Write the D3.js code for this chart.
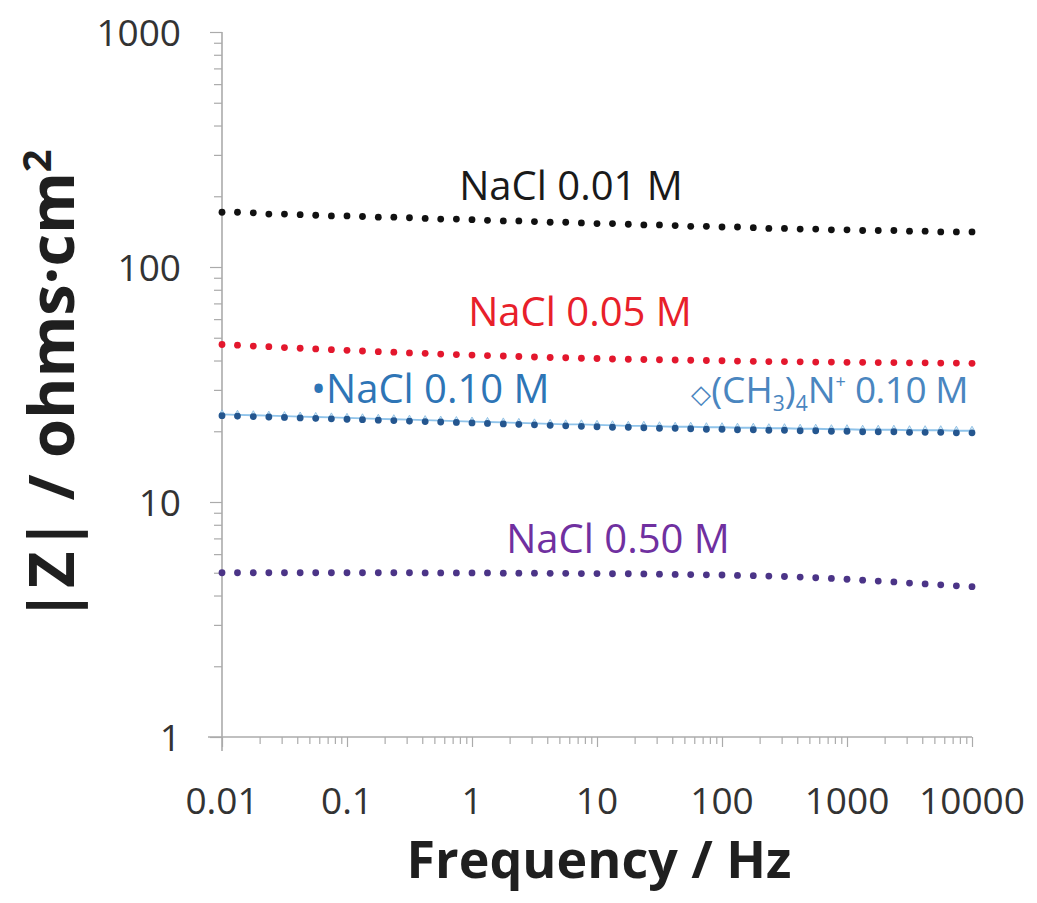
<!DOCTYPE html>
<html>
<head>
<meta charset="utf-8">
<script src="https://cdn.jsdelivr.net/npm/d3@7"></script>
<style>
  html, body { margin: 0; padding: 0; background: #fff; }
  svg text { font-family: "Open Sans", "Noto Sans", sans-serif; }
</style>
</head>
<body>
<svg id="chart" width="1037" height="903"></svg>
<script>
// Measurement frequencies (Hz), 8 points per decade
const freqHz = [
  0.01, 0.0133, 0.0178, 0.0237, 0.0316, 0.0422, 0.0562, 0.075,
  0.1, 0.133, 0.178, 0.237, 0.316, 0.422, 0.562, 0.75,
  1, 1.33, 1.78, 2.37, 3.16, 4.22, 5.62, 7.5,
  10, 13.3, 17.8, 23.7, 31.6, 42.2, 56.2, 75,
  100, 133, 178, 237, 316, 422, 562, 750,
  1000, 1334, 1778, 2371, 3162, 4217, 5623, 7499,
  10000
];

// |Z| (ohms·cm²) for each electrolyte
const nacl001 = [
  171, 171, 170, 168, 168, 167, 166, 165,
  165, 164, 163, 163, 162, 161, 160, 160,
  159, 158, 157, 157, 156, 155, 155, 154,
  153, 153, 152, 151, 151, 150, 149, 149,
  148, 148, 147, 146, 146, 145, 145, 144,
  144, 143, 143, 143, 142, 142, 141, 141,
  141
];
const nacl005 = [
  46.8, 46.5, 46.1, 45.8, 45.4, 45.1, 44.8, 44.5,
  44.2, 43.9, 43.6, 43.4, 43.1, 42.9, 42.6, 42.4,
  42.2, 42.0, 41.8, 41.6, 41.4, 41.2, 41.1, 40.9,
  40.8, 40.6, 40.5, 40.4, 40.3, 40.2, 40.1, 40.0,
  39.9, 39.8, 39.7, 39.6, 39.6, 39.5, 39.4, 39.4,
  39.3, 39.3, 39.2, 39.2, 39.1, 39.1, 39.0, 39.0,
  38.9
];
const nacl010 = [
  23.3, 23.2, 23.1, 23.0, 22.9, 22.8, 22.7, 22.6,
  22.5, 22.4, 22.3, 22.2, 22.1, 22.0, 21.9, 21.8,
  21.7, 21.6, 21.5, 21.4, 21.3, 21.2, 21.1, 21.0,
  20.9, 20.8, 20.8, 20.7, 20.6, 20.6, 20.5, 20.4,
  20.4, 20.3, 20.3, 20.2, 20.2, 20.1, 20.1, 20.0,
  20.0, 19.9, 19.9, 19.9, 19.8, 19.8, 19.8, 19.7,
  19.7
];
const tma010 = [
  23.6, 23.5, 23.4, 23.3, 23.2, 23.1, 23.0, 22.9,
  22.8, 22.7, 22.6, 22.5, 22.4, 22.3, 22.2, 22.1,
  22.0, 21.9, 21.8, 21.7, 21.6, 21.5, 21.4, 21.4,
  21.3, 21.2, 21.1, 21.1, 21.0, 20.9, 20.9, 20.8,
  20.8, 20.7, 20.7, 20.6, 20.6, 20.5, 20.5, 20.4,
  20.4, 20.3, 20.3, 20.3, 20.2, 20.2, 20.2, 20.1,
  20.1
];
const nacl050 = [
  5.00, 5.00, 5.00, 5.00, 5.00, 5.00, 5.00, 5.00,
  5.00, 5.00, 5.00, 5.00, 5.00, 4.99, 4.99, 4.99,
  4.99, 4.99, 4.98, 4.98, 4.98, 4.97, 4.97, 4.96,
  4.96, 4.95, 4.95, 4.94, 4.93, 4.92, 4.91, 4.90,
  4.89, 4.87, 4.86, 4.84, 4.82, 4.79, 4.76, 4.73,
  4.69, 4.65, 4.61, 4.57, 4.52, 4.48, 4.44, 4.40,
  4.36
];

const xTickValues = [0.01, 0.1, 1, 10, 100, 1000, 10000];
const xTickLabels = ["0.01", "0.1", "1", "10", "100", "1000", "10000"];
const yTickValues = [1, 10, 100, 1000];
const yTickLabels = ["1", "10", "100", "1000"];

const svg = d3.select("#chart");
const plot = { left: 222, right: 972, top: 32, bottom: 737 };

const x = d3.scaleLog().domain([0.01, 10000]).range([plot.left, plot.right]);
const y = d3.scaleLog().domain([1, 1000]).range([plot.bottom, plot.top]);

const axisColor = "#ababab";
const labelColor = "#333333";
const tickFont = 37;

// minor tick positions for each decade
function minorTicks(domain) {
  const out = [];
  for (let e = Math.log10(domain[0]); e < Math.log10(domain[1]); e++) {
    for (let m = 2; m <= 9; m++) out.push(m * Math.pow(10, e));
  }
  return out;
}

// X axis
const xAxisG = svg.append("g").attr("transform", `translate(0,${plot.bottom})`);
xAxisG.call(d3.axisBottom(x).tickValues(minorTicks(x.domain())).tickSize(7).tickFormat(""));
xAxisG.append("g").call(d3.axisBottom(x).tickValues(xTickValues).tickSize(10).tickFormat(""));
xAxisG.selectAll("path.domain").remove();
xAxisG.append("line").attr("x1", plot.left - 14).attr("x2", plot.right).attr("stroke", axisColor).attr("stroke-width", 1.6);
xAxisG.selectAll(".tick line").attr("stroke", axisColor).attr("stroke-width", 1.2);

svg.append("g").selectAll("text").data(xTickValues).join("text")
  .attr("x", d => x(d)).attr("y", 814)
  .attr("text-anchor", "middle").attr("font-size", tickFont).attr("fill", labelColor)
  .text((d, i) => xTickLabels[i]);

// Y axis
const yAxisG = svg.append("g").attr("transform", `translate(${plot.left},0)`);
yAxisG.call(d3.axisLeft(y).tickValues(minorTicks(y.domain())).tickSize(8).tickFormat(""));
yAxisG.append("g").call(d3.axisLeft(y).tickValues(yTickValues).tickSize(12).tickFormat(""));
yAxisG.selectAll("path.domain").remove();
yAxisG.append("line").attr("y1", plot.top).attr("y2", plot.bottom + 14).attr("stroke", axisColor).attr("stroke-width", 1.6);
yAxisG.selectAll(".tick line").attr("stroke", axisColor).attr("stroke-width", 1.2);

svg.append("g").selectAll("text").data(yTickValues).join("text")
  .attr("x", 181).attr("y", d => y(d) + 14)
  .attr("text-anchor", "end").attr("font-size", tickFont).attr("fill", labelColor)
  .text((d, i) => yTickLabels[i]);

// Axis titles
svg.append("text")
  .attr("x", 599).attr("y", 878)
  .attr("text-anchor", "middle").attr("font-size", 52).attr("font-weight", "bold")
  .attr("fill", "#1f1f1f").text("Frequency / Hz");

const yTitle = svg.append("text")
  .attr("transform", "translate(74,386) rotate(-90)")
  .attr("text-anchor", "middle").attr("font-size", 63).attr("font-weight", "bold")
  .attr("fill", "#1f1f1f");
yTitle.append("tspan").text("|Z| / ohms·cm");
yTitle.append("tspan").attr("dy", -23).attr("font-size", 40).text("2");

// Data series
const line = d3.line().x(d => x(d[0])).y(d => y(d[1]));
function pairs(vals) { return freqHz.map((f, i) => [f, vals[i]]); }

// (CH3)4N+ series: light blue diamonds joined by a faint line
svg.append("path").datum(pairs(tma010)).attr("d", line)
  .attr("fill", "none").attr("stroke", "#8fc3ea").attr("stroke-width", 1.8);
svg.append("g").selectAll("path").data(pairs(tma010)).join("path")
  .attr("d", d3.symbol(d3.symbolDiamond, 24))
  .attr("transform", d => `translate(${x(d[0])},${y(d[1])})`)
  .attr("fill", "#d6ebf8").attr("stroke", "#7fb6e0").attr("stroke-width", 0.8);

const dotSeries = [
  { vals: nacl001, color: "#111111" },
  { vals: nacl005, color: "#e3172d" },
  { vals: nacl010, color: "#24568f" },
  { vals: nacl050, color: "#4b3487" }
];
dotSeries.forEach(s => {
  svg.append("g").selectAll("circle").data(pairs(s.vals)).join("circle")
    .attr("cx", d => x(d[0])).attr("cy", d => y(d[1])).attr("r", 3.4)
    .attr("fill", s.color);
});

// Series labels
const fs = 40;
svg.append("text").attr("x", 571).attr("y", 200).attr("text-anchor", "middle")
  .attr("font-size", fs).attr("fill", "#1a1a1a").text("NaCl 0.01 M");
svg.append("text").attr("x", 580).attr("y", 326).attr("text-anchor", "middle")
  .attr("font-size", fs).attr("fill", "#e8202a").text("NaCl 0.05 M");
svg.append("text").attr("x", 311).attr("y", 403)
  .attr("font-size", fs).attr("fill", "#2e75b6").text("•NaCl 0.10 M");
svg.append("text").attr("x", 618).attr("y", 553).attr("text-anchor", "middle")
  .attr("font-size", fs).attr("fill", "#7030a0").text("NaCl 0.50 M");

const tmaLabel = svg.append("text").attr("x", 968).attr("y", 403).attr("text-anchor", "end")
  .attr("font-size", 37).attr("fill", "#4a86bf");
tmaLabel.append("tspan").attr("font-size", 26).text("◇");
tmaLabel.append("tspan").text("(CH");
tmaLabel.append("tspan").attr("dy", 8).attr("font-size", 21).text("3");
tmaLabel.append("tspan").attr("dy", -8).text(")");
tmaLabel.append("tspan").attr("dy", 8).attr("font-size", 21).text("4");
tmaLabel.append("tspan").attr("dy", -8).text("N");
tmaLabel.append("tspan").attr("dy", -15).attr("font-size", 18).text("+");
tmaLabel.append("tspan").attr("dy", 15).attr("letter-spacing", -0.5).text(" 0.10 M");
</script>
</body>
</html>
